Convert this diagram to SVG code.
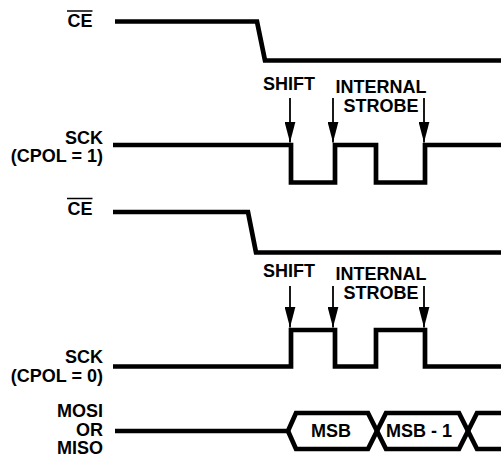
<svg xmlns="http://www.w3.org/2000/svg" width="501" height="458" viewBox="0 0 501 458">
<style>
text{font-family:"Liberation Sans",Arial,sans-serif;font-weight:bold;font-size:18px;fill:#000}
.r{text-anchor:end}
.m{text-anchor:middle}
.sig{fill:none;stroke:#000;stroke-width:4.7;stroke-linejoin:miter}
.ov{stroke:#000;stroke-width:1.5}
.arr{stroke:#000;stroke-width:1.8}
</style>
<defs>
<marker id="ah" markerWidth="11" markerHeight="21" refX="5.5" refY="21" orient="0" markerUnits="userSpaceOnUse" viewBox="0 0 11 21">
<path d="M0,0 L11,0 L5.5,21 Z" fill="#000"/>
</marker>
</defs>
<rect width="501" height="458" fill="#fff"/>
<g id="labels">
<text class="r" x="92.5" y="26.5">CE</text>
<line class="ov" x1="67" y1="11" x2="92.5" y2="11"/>
<text class="r" x="103" y="143.5">SCK</text>
<text class="r" x="103" y="162">(CPOL = 1)</text>
<text class="r" x="92.5" y="215">CE</text>
<line class="ov" x1="67" y1="198.5" x2="92.5" y2="198.5"/>
<text class="r" x="103" y="363">SCK</text>
<text class="r" x="103" y="381.5">(CPOL = 0)</text>
<text class="r" x="103" y="417">MOSI</text>
<text class="r" x="103" y="435.5">OR</text>
<text class="r" x="103" y="454">MISO</text>
</g>
<g id="ce1"><path class="sig" d="M115,21.5 H257 L265,60.5 H501"/></g>
<g id="sck1"><path class="sig" d="M113,145 H291 V182.5 H335 V145 H376 V182.5 H425 V145 H501"/></g>
<g id="ce2"><path class="sig" d="M113,212 H248 L256,252.5 H501"/></g>
<g id="sck0"><path class="sig" d="M113,366.5 H291 V330 H335 V366.5 H376 V330 H425 V366.5 H501"/></g>
<g id="bus">
<path class="sig" d="M115,431 H288 L296,413 H368 L386,449 H459 L477,413 H501"/>
<path class="sig" d="M288,431 L296,449 H368 L386,413 H459 L477,449 H501"/>
<text class="m" x="331" y="437">MSB</text>
<text class="m" x="419" y="437">MSB - 1</text>
</g>
<g id="annot1">
<text class="m" x="289" y="90">SHIFT</text>
<text class="m" x="381" y="93">INTERNAL</text>
<text class="m" x="381" y="111.5">STROBE</text>
</g>
<g id="annot2">
<text class="m" x="289" y="277">SHIFT</text>
<text class="m" x="381" y="280">INTERNAL</text>
<text class="m" x="381" y="299">STROBE</text>
</g>
<g id="connectors">
<line class="arr" x1="290" y1="98" x2="290" y2="142.5" marker-end="url(#ah)"/>
<line class="arr" x1="333" y1="98" x2="333" y2="142.5" marker-end="url(#ah)"/>
<line class="arr" x1="424" y1="98" x2="424" y2="142.5" marker-end="url(#ah)"/>
<line class="arr" x1="290" y1="286" x2="290" y2="327.5" marker-end="url(#ah)"/>
<line class="arr" x1="333" y1="286" x2="333" y2="327.5" marker-end="url(#ah)"/>
<line class="arr" x1="424" y1="286" x2="424" y2="327.5" marker-end="url(#ah)"/>
</g>
</svg>
